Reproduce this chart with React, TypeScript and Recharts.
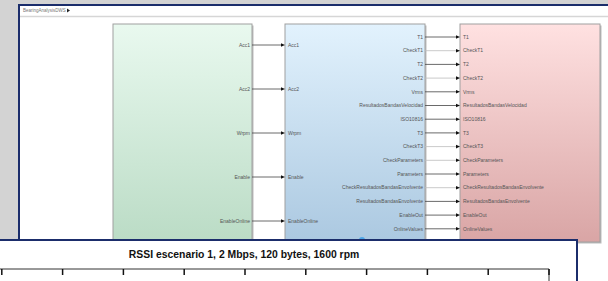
import React from "react";
import { LineChart, Line, XAxis, YAxis } from "recharts";

// Simulink ports (screenshot behind the plot window)
const greenOutputs = ["Acc1", "Acc2", "Wrpm", "Enable", "EnableOnline"];
const blueOutputs = [
  "T1",
  "CheckT1",
  "T2",
  "CheckT2",
  "Vrms",
  "ResultadosBandasVelocidad",
  "ISO10816",
  "T3",
  "CheckT3",
  "CheckParameters",
  "Parameters",
  "CheckResultadosBandasEnvolvente",
  "ResultadosBandasEnvolvente",
  "EnableOut",
  "OnlineValues",
];
const modelName = "BearingAnalysisDWS";

// RSSI plot (only the top edge is visible)
const chartTitle = "RSSI escenario 1, 2 Mbps, 120 bytes, 1600 rpm";
const sampleX = [0, 10, 20, 30, 40, 50, 60, 70, 80, 90, 100];
const rssiValues = [-62, -61, -63, -60, -64, -62, -61, -63, -62, -60, -61];
const xTicks = [0, 10, 20, 30, 40, 50, 60, 70, 80, 90, 100];

const NAVY = "#1b2d6b";

function Arrow({ x, y }: { x: number; y: number }) {
  return <path d={`M${x - 4},${y - 1.8} L${x},${y} L${x - 4},${y + 1.8} Z`} fill="#111" />;
}

// MATLAB-style inward tick on the top box edge
function InwardTick(props: any) {
  const { x, y } = props;
  return <line x1={x} x2={x} y1={y} y2={y + 6} stroke="#111" strokeWidth={1.5} />;
}

function Diagram() {
  const gY = (i: number) => 45 + i * 44;
  const bY = (i: number) => 37 + i * 13.7;
  const isLight = (n: string) => n.startsWith("Check");
  const fs = 5;
  return (
    <svg width={608} height={281} style={{ position: "absolute", left: 0, top: 0 }}>
      <defs>
        <linearGradient id="gGreen" x1="0" y1="0" x2="0" y2="1">
          <stop offset="0" stopColor="#e9f9ef" />
          <stop offset="1" stopColor="#b8dac3" />
        </linearGradient>
        <linearGradient id="gBlue" x1="0" y1="0" x2="0" y2="1">
          <stop offset="0" stopColor="#e2f2fd" />
          <stop offset="1" stopColor="#a8c6df" />
        </linearGradient>
        <linearGradient id="gRed" x1="0" y1="0" x2="0" y2="1">
          <stop offset="0" stopColor="#ffe1e1" />
          <stop offset="1" stopColor="#d9a5a5" />
        </linearGradient>
      </defs>
      <rect x={0} y={0} width={608} height={281} fill="#d3d3d3" />
      <rect x={19} y={5} width={620} height={300} fill="#fff" stroke={NAVY} strokeWidth={2} />
      <text x={23} y={12} fontSize={4.5} fill="#777" fontFamily="Arial">
        {modelName}
      </text>
      <path d="M67,8.5 L70,10.5 L67,12.5 Z" fill="#222" />
      <line x1={20} y1={16.5} x2={608} y2={16.5} stroke="#d6d6d6" strokeWidth={1.5} />

      {/* blocks with shadow */}
      <rect x={114.5} y={25.5} width={139} height={230} fill="#bcbcbc" />
      <rect x={113} y={24} width={139} height={230} fill="url(#gGreen)" stroke="#a0a0a0" />
      <rect x={286.5} y={25.5} width={140} height={230} fill="#bcbcbc" />
      <rect x={285} y={24} width={140} height={230} fill="url(#gBlue)" stroke="#a0a0a0" />
      <rect x={461.5} y={25.5} width={140} height={218} fill="#bcbcbc" />
      <rect x={460} y={24} width={140} height={218} fill="url(#gRed)" stroke="#a0a0a0" />

      {greenOutputs.map((n, i) => (
        <g key={n} fontFamily="Arial" fontSize={fs} fill="#555">
          <text x={250} y={gY(i) + 1.7} textAnchor="end">
            {n}
          </text>
          <line x1={252} y1={gY(i)} x2={282} y2={gY(i)} stroke="#444" strokeWidth={0.8} />
          <Arrow x={285} y={gY(i)} />
          <text x={288} y={gY(i) + 1.7}>{n}</text>
        </g>
      ))}
      {blueOutputs.map((n, i) => (
        <g key={n} fontFamily="Arial" fontSize={fs} fill="#555">
          <text x={423} y={bY(i) + 1.7} textAnchor="end">
            {n}
          </text>
          <line
            x1={425}
            y1={bY(i)}
            x2={457}
            y2={bY(i)}
            stroke={isLight(n) ? "#bbbbbb" : "#444"}
            strokeWidth={0.8}
          />
          <Arrow x={460} y={bY(i)} />
          <text x={463} y={bY(i) + 1.7}>{n}</text>
        </g>
      ))}
      <circle cx={362} cy={240} r={3} fill="#4da6e8" />
    </svg>
  );
}

export default function App() {
  const data = sampleX.map((x, i) => ({ x, rssi: rssiValues[i] }));
  return (
    <div
      style={{
        position: "fixed",
        left: 0,
        top: 0,
        width: 608,
        height: 281,
        overflow: "hidden",
        background: "#d3d3d3",
      }}
    >
      <Diagram />
      <div
        style={{
          position: "absolute",
          left: -4,
          top: 239,
          width: 582,
          height: 60,
          boxSizing: "border-box",
          background: "#fff",
          borderTop: `2px solid ${NAVY}`,
          borderRight: `2px solid ${NAVY}`,
        }}
      />
      <div
        style={{
          position: "absolute",
          left: 0,
          top: 249,
          width: 488,
          textAlign: "center",
          fontFamily: "Arial, 'Liberation Sans', sans-serif",
          fontWeight: "bold",
          fontSize: 10.4,
          color: "#111",
          lineHeight: "12px",
        }}
      >
        {chartTitle}
      </div>
      <div style={{ position: "absolute", left: -70, top: 240 }}>
        <LineChart width={640} height={240} data={data} margin={{ top: 9, right: 11, bottom: 10, left: 11 }}>
          <XAxis
            dataKey="x"
            type="number"
            orientation="top"
            domain={[0, 100]}
            ticks={xTicks}
            interval={0}
            height={20}
            tickSize={0}
            tickMargin={0}
            tickLine={false}
            tick={<InwardTick />}
            axisLine={{ stroke: "#333", strokeWidth: 1 }}
          />
          <YAxis
            orientation="right"
            width={10}
            domain={[-100, -40]}
            tick={false}
            tickLine={false}
            axisLine={{ stroke: "#333", strokeWidth: 1 }}
          />
          <Line dataKey="rssi" stroke="#0072bd" dot={false} isAnimationActive={false} />
        </LineChart>
      </div>
    </div>
  );
}
